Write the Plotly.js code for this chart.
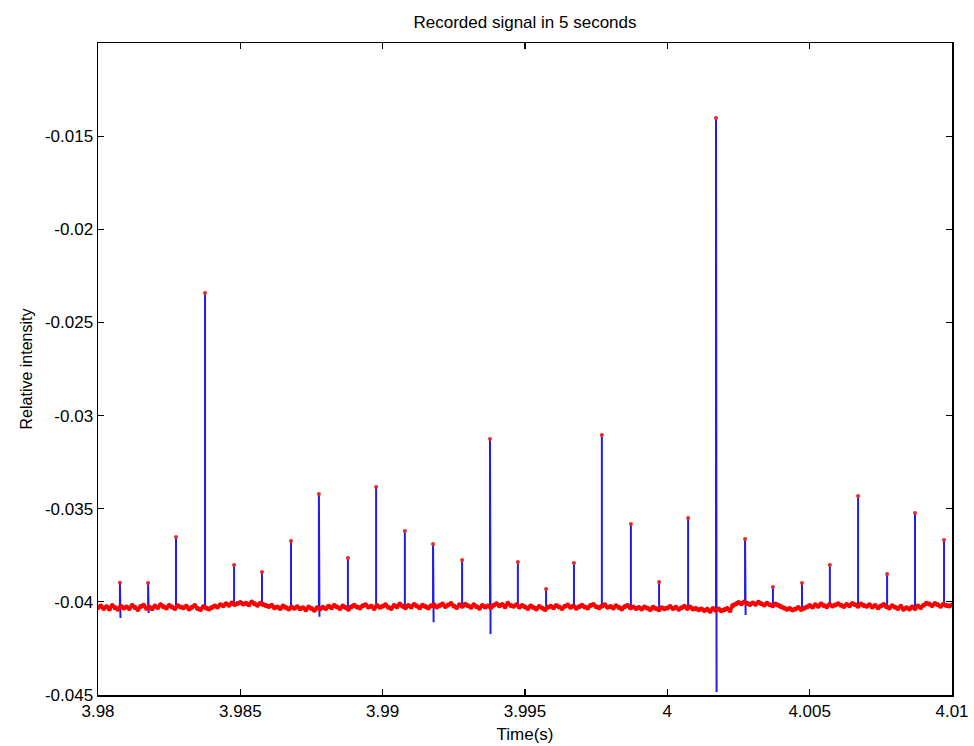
<!DOCTYPE html>
<html>
<head>
<meta charset="utf-8">
<script src="https://cdn.plot.ly/plotly-3.0.1.min.js"></script>
<style>html,body{margin:0;padding:0;background:#fff;}#chart{width:974px;height:746px;}</style>
</head>
<body>
<div id="chart"></div>
<script>
// Sampling grid of the baseline recording
var startTime = 3.98;
var sampleStep = 0.0001;

// Baseline signal (one value per 0.1 ms)
var baseline = [
-0.04030,-0.04022,-0.04035,-0.04026,-0.04038,-0.04020,-0.04031,-0.04040,-0.04024,-0.04033,
-0.04027,-0.04036,-0.04019,-0.04030,-0.04041,-0.04025,-0.04018,-0.04034,-0.04028,-0.04037,
-0.04022,-0.04030,-0.04015,-0.04026,-0.04033,-0.04019,-0.04028,-0.04036,-0.04021,-0.04027,
-0.04032,-0.04024,-0.04038,-0.04029,-0.04020,-0.04035,-0.04041,-0.04026,-0.04033,-0.04039,
-0.04030,-0.04022,-0.04027,-0.04015,-0.04021,-0.04010,-0.04018,-0.04006,-0.04014,-0.04009,
-0.04003,-0.04012,-0.04007,-0.04016,-0.04001,-0.04010,-0.04018,-0.04008,-0.04014,-0.04020,
-0.04025,-0.04018,-0.04031,-0.04027,-0.04036,-0.04022,-0.04030,-0.04039,-0.04028,-0.04034,
-0.04026,-0.04037,-0.04031,-0.04042,-0.04028,-0.04035,-0.04045,-0.04032,-0.04038,-0.04029,
-0.04036,-0.04024,-0.04031,-0.04019,-0.04028,-0.04036,-0.04022,-0.04030,-0.04040,-0.04026,
-0.04018,-0.04027,-0.04033,-0.04021,-0.04015,-0.04028,-0.04024,-0.04035,-0.04020,-0.04029,
-0.04023,-0.04016,-0.04029,-0.04035,-0.04020,-0.04026,-0.04012,-0.04024,-0.04031,-0.04019,
-0.04027,-0.04014,-0.04022,-0.04031,-0.04018,-0.04025,-0.04033,-0.04021,-0.04016,-0.04028,
-0.04020,-0.04012,-0.04025,-0.04017,-0.04009,-0.04022,-0.04030,-0.04016,-0.04024,-0.04013,
-0.04021,-0.04029,-0.04015,-0.04026,-0.04034,-0.04019,-0.04027,-0.04022,-0.04030,-0.04018,
-0.04010,-0.04021,-0.04014,-0.04026,-0.04008,-0.04019,-0.04024,-0.04015,-0.04028,-0.04020,
-0.04027,-0.04035,-0.04022,-0.04030,-0.04038,-0.04025,-0.04033,-0.04041,-0.04029,-0.04024,
-0.04031,-0.04020,-0.04028,-0.04036,-0.04024,-0.04017,-0.04029,-0.04022,-0.04034,-0.04026,
-0.04018,-0.04027,-0.04033,-0.04020,-0.04014,-0.04026,-0.04031,-0.04023,-0.04016,-0.04029,
-0.04025,-0.04033,-0.04021,-0.04030,-0.04038,-0.04026,-0.04019,-0.04032,-0.04027,-0.04035,
-0.04030,-0.04038,-0.04027,-0.04034,-0.04041,-0.04029,-0.04036,-0.04043,-0.04031,-0.04037,
-0.04033,-0.04025,-0.04036,-0.04029,-0.04040,-0.04031,-0.04024,-0.04035,-0.04028,-0.04038,
-0.04035,-0.04043,-0.04038,-0.04047,-0.04040,-0.04050,-0.04036,-0.04045,-0.04039,-0.04048,
-0.04042,-0.04035,-0.04046,-0.04020,-0.04012,-0.04003,-0.04010,-0.04001,-0.04008,-0.04014,
-0.04006,-0.04013,-0.04002,-0.04010,-0.04017,-0.04008,-0.04015,-0.04021,-0.04012,-0.04018,
-0.04026,-0.04033,-0.04040,-0.04035,-0.04044,-0.04038,-0.04030,-0.04041,-0.04034,-0.04027,
-0.04020,-0.04028,-0.04015,-0.04024,-0.04011,-0.04019,-0.04026,-0.04014,-0.04022,-0.04017,
-0.04010,-0.04018,-0.04025,-0.04014,-0.04021,-0.04009,-0.04016,-0.04023,-0.04012,-0.04019,
-0.04024,-0.04016,-0.04027,-0.04020,-0.04031,-0.04022,-0.04014,-0.04026,-0.04033,-0.04021,
-0.04029,-0.04036,-0.04024,-0.04040,-0.04031,-0.04038,-0.04027,-0.04035,-0.04022,-0.04030,
-0.04018,-0.04007,-0.04012,-0.04020,-0.04009,-0.04016,-0.04024,-0.04013,-0.04019,-0.04022,
-0.04017
];

// Spike (pulse) times, peak values and negative excursions
var spikeTime = [3.98077,3.98176,3.98274,3.98376,3.98478,3.98576,3.98678,3.98776,3.98878,3.98977,
                 3.99078,3.99177,3.99279,3.99377,3.99475,3.99574,3.99672,3.99770,3.99872,3.99971,
                 4.00073,4.00171,4.00273,4.00371,4.00473,4.00571,4.00670,4.00772,4.00870,4.00972];
var spikePeak = [-0.03897,-0.03899,-0.03652,-0.02342,-0.03802,-0.03840,-0.03673,-0.03421,-0.03764,-0.03383,
                 -0.03619,-0.03689,-0.03775,-0.03126,-0.03786,-0.03931,-0.03791,-0.03104,-0.03582,-0.03893,
                 -0.03550,-0.01403,-0.03662,-0.03920,-0.03899,-0.03802,-0.03432,-0.03850,-0.03523,-0.03668];
var spikeDip = [-0.04087,-0.04060,null,null,null,null,null,-0.04080,null,null,
                null,-0.04110,null,-0.04172,null,null,null,null,null,null,
                null,-0.04484,-0.04070,null,null,null,null,null,null,null];

// Tick labels
var xTickVals = [3.98,3.985,3.99,3.995,4,4.005,4.01];
var xTickText = ['3.98','3.985','3.99','3.995','4','4.005','4.01'];
var yTickVals = [-0.045,-0.04,-0.035,-0.03,-0.025,-0.02,-0.015];
var yTickText = ['-0.045','-0.04','-0.035','-0.03','-0.025','-0.02','-0.015'];

// Build traces
var baseT = baseline.map(function(v,i){ return +(startTime + i*sampleStep).toFixed(5); });

var blueX = [], blueY = [];
for (var k = 0; k < spikeTime.length; k++) {
  var idx = Math.round((spikeTime[k]-startTime)/sampleStep);
  var b = baseline[Math.min(idx, baseline.length-1)];
  blueX.push(spikeTime[k], spikeTime[k]);
  blueY.push(b, spikePeak[k]);
  if (spikeDip[k] !== null) {
    blueX.push(spikeTime[k] + 0.00002);
    blueY.push(spikeDip[k]);
  }
  blueX.push(null); blueY.push(null);
}

var FONT = 'Liberation Sans, Arial, sans-serif';

var traces = [
  {x: blueX, y: blueY, type: 'scatter', mode: 'lines',
   line: {color: 'rgb(30,30,235)', width: 2}, hoverinfo: 'skip', showlegend: false},
  {x: baseT, y: baseline, type: 'scatter', mode: 'lines+markers',
   line: {color: 'rgb(255,0,0)', width: 3.5},
   marker: {color: 'rgb(255,0,0)', size: 5}, showlegend: false},
  {x: spikeTime, y: spikePeak, type: 'scatter', mode: 'markers',
   marker: {color: 'rgb(235,40,40)', size: 4}, showlegend: false}
];

var axisCommon = {
  showgrid: false, zeroline: false, showline: true, linecolor: '#000', linewidth: 1.5,
  mirror: 'ticks', ticks: 'inside', ticklen: 6, tickcolor: '#000', tickwidth: 1.2,
  tickfont: {family: FONT, size: 17, color: '#000'}
};

var layout = {
  width: 974, height: 746,
  paper_bgcolor: '#fff', plot_bgcolor: '#fff',
  margin: {l: 98, r: 22, t: 43, b: 51},
  title: {text: 'Recorded signal in 5 seconds', x: 0.539, xanchor: 'center', y: 0.97, yanchor: 'middle',
          font: {family: FONT, size: 17, color: '#000'}},
  xaxis: Object.assign({}, axisCommon, {
    range: [3.98, 4.01], tickvals: xTickVals, ticktext: xTickText,
    title: {text: 'Time(s)', standoff: 8, font: {family: FONT, size: 17, color: '#000'}},
    automargin: false
  }),
  yaxis: Object.assign({}, axisCommon, {
    range: [-0.045, -0.01], tickvals: yTickVals, ticktext: yTickText,
    title: {text: 'Relative intensity', standoff: 8, font: {family: FONT, size: 16, color: '#000'}},
    automargin: false
  })
};

Plotly.newPlot('chart', traces, layout, {displayModeBar: false, staticPlot: true});
</script>
</body>
</html>
